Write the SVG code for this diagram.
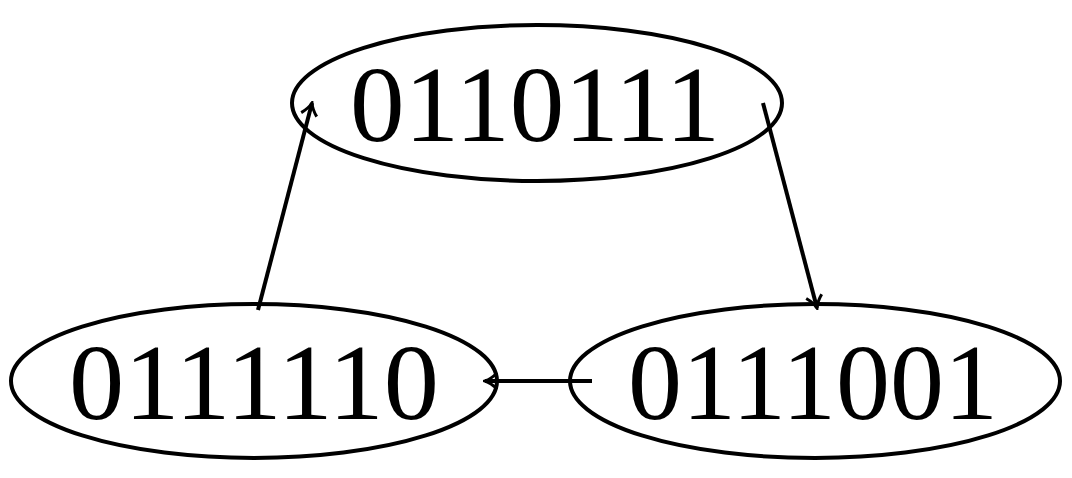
<svg xmlns="http://www.w3.org/2000/svg" width="1072" height="478" viewBox="0 0 1072 478">
<style>
.n{fill:none;stroke:#000;stroke-width:4}
.t{font-family:"Liberation Serif","DejaVu Serif",serif;font-size:108px;fill:#000;text-anchor:middle}
.c{fill:none;stroke:#000;stroke-width:4;marker-end:url(#a)}
</style>
<defs>
<marker id="a" viewBox="0 0 20 20" refX="18" refY="10" markerWidth="20" markerHeight="20" markerUnits="userSpaceOnUse" orient="auto">
<path d="M6 2 Q12 8 18 10 Q12 12 6 18" fill="none" stroke="#000" stroke-width="3"/>
</marker>
</defs>
<rect width="1072" height="478" fill="#fff"/>
<g id="n1"><ellipse class="n" cx="537" cy="103" rx="245" ry="78"/><text class="t" x="535" y="141" textLength="370" lengthAdjust="spacingAndGlyphs">0110111</text></g>
<g id="n2"><ellipse class="n" cx="254" cy="381" rx="243" ry="77"/><text class="t" x="254" y="419" textLength="370" lengthAdjust="spacingAndGlyphs">0111110</text></g>
<g id="n3"><ellipse class="n" cx="815" cy="381" rx="245" ry="77"/><text class="t" x="813" y="419" textLength="370" lengthAdjust="spacingAndGlyphs">0111001</text></g>
<g id="edges">
<path class="c" d="M763 103 L817 308"/>
<path class="c" d="M258 310 L312 103"/>
<path class="c" d="M592 381 L485 381"/>
</g>
</svg>
